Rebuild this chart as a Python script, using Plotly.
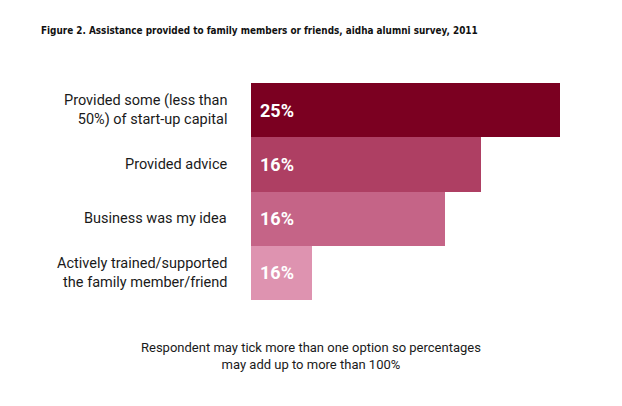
import plotly.graph_objects as go

categories = [
    "Provided some (less than<br>50%) of start-up capital",
    "Provided advice",
    "Business was my idea",
    "Actively trained/supported<br>the family member/friend",
]
bar_lengths = [25.0, 18.6, 15.7, 4.9]
value_labels = ["25%", "16%", "16%", "16%"]
colors = ["#7B0021", "#AE3F63", "#C56487", "#DE93B0"]

title_text = "Figure 2. Assistance provided to family members or friends, aidha alumni survey, 2011"
note_text = "Respondent may tick more than one option so percentages<br>may add up to more than 100%"

# page offset (body margin) compensation
OFF = 8
L, R, T, B = 251 - OFF, 22 + OFF, 83 - OFF, 106 + OFF
plot_w = 622 - L - R
plot_h = 406 - T - B

fig = go.Figure()
fig.add_trace(go.Bar(
    x=bar_lengths,
    y=list(range(len(categories))),
    orientation="h",
    marker=dict(color=colors, line=dict(width=0)),
    hoverinfo="skip",
))

annotations = []
for i, (cat, lab) in enumerate(zip(categories, value_labels)):
    annotations.append(dict(
        x=0, y=i, xref="x", yref="y", text=cat, showarrow=False,
        xanchor="right", yanchor="middle", align="right", xshift=-22,
        font=dict(family="Roboto", size=14.5, color="#1a1a1a"),
    ))
    annotations.append(dict(
        x=0, y=i, xref="x", yref="y", text="<b>" + lab + "</b>", showarrow=False,
        xanchor="left", yanchor="middle", xshift=7,
        font=dict(family="Roboto", size=18, color="white"),
    ))

# title: left edge at page x=43, center page y=29; plot top is at page y=83
annotations.append(dict(
    x=(39 - 251) / plot_w, y=1 + (83 - 31) / plot_h,
    xref="paper", yref="paper", text="<b>" + title_text + "</b>",
    showarrow=False, xanchor="left", yanchor="middle",
    font=dict(family="DejaVu Sans Condensed, Roboto", size=9.9, color="#111111"),
))

annotations.append(dict(
    x=(311 - 251) / plot_w, y=0, xref="paper", yref="paper", text=note_text, showarrow=False,
    xanchor="center", yanchor="top", yshift=-38, align="center",
    font=dict(family="Roboto", size=13, color="#1a1a1a"),
))

fig.update_layout(
    width=622, height=406,
    margin=dict(l=L, r=R, t=T, b=B),
    paper_bgcolor="white", plot_bgcolor="white",
    bargap=0, showlegend=False,
    xaxis=dict(range=[0, plot_w / 12.36], visible=False, fixedrange=True),
    yaxis=dict(range=[3.5, -0.5], visible=False, fixedrange=True),
    annotations=annotations,
)

fig.write_html("out.html")
